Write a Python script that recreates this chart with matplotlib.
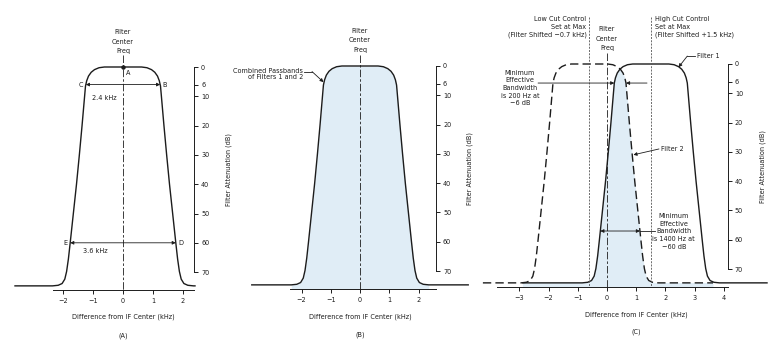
import numpy as np
import matplotlib
matplotlib.use("Agg")
import matplotlib.pyplot as plt
from matplotlib.patches import Polygon

# base filter shape, right half: offset from filter centre (kHz) / attenuation (dB)
base_off = [0.0, 0.62, 0.80, 0.95, 1.06, 1.15, 1.21, 1.25, 1.28, 1.365, 1.455,
            1.55, 1.655, 1.76, 1.82, 1.88, 1.94, 2.03, 2.16, 2.35]
base_db = [0.0, 0.0, 0.25, 0.9, 1.8, 3.1, 4.7, 6.5, 10, 20, 30,
           40, 50, 60, 65.5, 69.8, 72.4, 73.9, 74.5, 74.7]
floor_db = 74.7

db_ticks = [0, 6, 10, 20, 30, 40, 50, 60, 70]
ab_ticks = [-2, -1, 0, 1, 2]
c_ticks = [-3, -2, -1, 0, 1, 2, 3, 4]

shift_1 = 1.5    # filter 1, high cut set at max
shift_2 = -0.6   # filter 2, low cut set at max
a_floor = (-3.6, 2.4)
b_floor = (-3.7, 3.7)
f1_floor = (-2.88, 5.48)
f2_floor = (-4.25, 3.63)

W, H = 770, 356
AXIS_DB = 76.2
FS = 4.7
INK = "#1c1c1c"
BLUE = "#e0edf6"
CENTER_DASH = (9, 2.5, 3, 2.5)

fig = plt.figure(figsize=(W / 100, H / 100), dpi=100)
fig.patch.set_facecolor("white")


def passband(shift, ends):
    x = [ends[0]] + [shift - o for o in reversed(base_off)] + [shift + o for o in base_off[1:]] + [ends[1]]
    y = [floor_db] + list(reversed(base_db)) + base_db[1:] + [floor_db]
    return np.array(x), np.array(y)


def half_width(db):
    return np.interp(db, base_db, base_off)


def panel(px0, ppk, py0, ppd, xticks, xbounds, scale_x, label_x):
    # every panel shares the whole figure, limits map kHz / dB onto its pixels
    ax = fig.add_axes([0, 0, 1, 1])
    ax.patch.set_visible(False)
    ax.set_xlim(-px0 / ppk, (W - px0) / ppk)
    ax.set_ylim((H - py0) / ppd, -py0 / ppd)
    for s in ("left", "top"):
        ax.spines[s].set_visible(False)
    ax.spines["bottom"].set_position(("data", AXIS_DB))
    ax.spines["bottom"].set_bounds(*xbounds)
    ax.spines["right"].set_position(("data", scale_x))
    ax.spines["right"].set_bounds(0, 70)
    for s in ("bottom", "right"):
        ax.spines[s].set_linewidth(0.7)
        ax.spines[s].set_color(INK)
    ax.set_xticks(xticks)
    ax.set_yticks(db_ticks)
    ax.tick_params(axis="x", direction="out", length=3, width=0.7, labelsize=FS, pad=2.3,
                   colors=INK)
    ax.tick_params(axis="y", left=False, right=True, labelleft=False, labelright=True,
                   direction="out", length=3, width=0.7, labelsize=FS, pad=2, colors=INK)
    ax.text(label_x, 35, "Filter Attenuation (dB)", rotation=90, ha="center", va="center",
            fontsize=FS, color=INK)
    return ax


def stack(ax, x, y0, lines, step, **kw):
    for i, line in enumerate(lines):
        ax.text(x, y0 + i * step, line, fontsize=FS, color=INK, va="center", **kw)


def dim_arrow(ax, x0, x1, y, style="<|-|>"):
    ax.annotate("", xy=(x1, y), xytext=(x0, y),
                arrowprops=dict(arrowstyle=style, lw=0.6, color=INK, mutation_scale=5,
                                shrinkA=0, shrinkB=0))


# ---- (A) single filter ----
ax = panel(123, 30.0, 67, 2.93, ab_ticks, (-2.33, 2.37), 2.37, 3.53)
xa, ya = passband(0, a_floor)
ax.plot(xa, ya, color=INK, lw=1.0)
ax.plot([0, 0], [-4, AXIS_DB], color=INK, lw=0.6, dashes=CENTER_DASH)
ax.plot([0], [0], "o", color=INK, ms=2.2)
stack(ax, 0, -11.9, ["Filter", "Center", "Freq"], 3.2, ha="center")
ax.text(0.17, 2.0, "A", fontsize=FS, color=INK, ha="center", va="center")
w6, w60 = half_width(6), half_width(60)
dim_arrow(ax, -w6, w6, 6)
dim_arrow(ax, -w60, w60, 60)
ax.text(-w6 - 0.08, 6, "C", fontsize=FS, color=INK, ha="right", va="center")
ax.text(w6 + 0.08, 6, "B", fontsize=FS, color=INK, ha="left", va="center")
ax.text(-w60 - 0.08, 60, "E", fontsize=FS, color=INK, ha="right", va="center")
ax.text(w60 + 0.08, 60, "D", fontsize=FS, color=INK, ha="left", va="center")
ax.text(-1.03, 10.6, "2.4 kHz", fontsize=FS, color=INK, ha="left", va="center")
ax.text(-1.33, 62.8, "3.6 kHz", fontsize=FS, color=INK, ha="left", va="center")
ax.text(0, 85.4, "Difference from IF Center (kHz)", fontsize=FS, color=INK, ha="center", va="center")
ax.text(0, 91.8, "(A)", fontsize=FS, color=INK, ha="center", va="center")

# ---- (B) combined passband ----
ax = panel(360, 29.25, 66, 2.93, ab_ticks, (-2.39, 2.6), 2.6, 3.76)
xb, yb = passband(0, b_floor)
ax.fill_between(xb, yb, AXIS_DB, color=BLUE, lw=0, where=np.abs(xb) < 2.4)
ax.plot(xb, yb, color=INK, lw=1.0)
ax.plot([0, 0], [-3.8, AXIS_DB], color=INK, lw=0.6, dashes=CENTER_DASH)
stack(ax, 0, -12.0, ["Filter", "Center", "Freq"], 3.2, ha="center")
stack(ax, -1.95, 1.6, ["Combined Passbands", "of Filters 1 and 2"], 2.3, ha="right")
ax.plot([-1.9, -1.64], [1.9, 1.9], color=INK, lw=0.6)
ax.annotate("", xy=(-half_width(5.5) - 0.02, 5.5), xytext=(-1.64, 1.9),
            arrowprops=dict(arrowstyle="-|>", lw=0.6, color=INK, mutation_scale=5,
                            shrinkA=0, shrinkB=0))
ax.text(0, 85.7, "Difference from IF Center (kHz)", fontsize=FS, color=INK, ha="center", va="center")
ax.text(0, 91.6, "(B)", fontsize=FS, color=INK, ha="center", va="center")

# ---- (C) shifted filters ----
ax = panel(607, 29.2, 64, 2.93, c_ticks, (-3.77, 4.14), 4.14, 5.34)
x1, y1 = passband(shift_1, f1_floor)
x2, y2 = passband(shift_2, f2_floor)
clip = Polygon(np.column_stack([np.r_[x1, x1[-1], x1[0]], np.r_[y1, AXIS_DB, AXIS_DB]]),
               closed=True, facecolor="none", edgecolor="none", transform=ax.transData)
ax.add_patch(clip)
overlap = ax.fill_between(x2, y2, AXIS_DB, color=BLUE, lw=0)
overlap.set_clip_path(clip)
ax.plot(x2, y2, color=INK, lw=1.0, dashes=(6, 3))
ax.plot(x1, y1, color=INK, lw=1.0)
ax.plot([0, 0], [-3.8, AXIS_DB], color=INK, lw=0.6, dashes=CENTER_DASH)
ax.plot([shift_2, shift_2], [-16, AXIS_DB], color="#555555", lw=0.6, dashes=(2.4, 1.5))
ax.plot([shift_1, shift_1], [-16, AXIS_DB], color="#555555", lw=0.6, dashes=(2.4, 1.5))

stack(ax, 0, -11.9, ["Filter", "Center", "Freq"], 3.2, ha="center")
stack(ax, shift_2 - 0.1, -15.4, ["Low Cut Control", "Set at Max", "(Filter Shifted \u22120.7 kHz)"],
      2.65, ha="right")
stack(ax, shift_1 + 0.14, -15.4, ["High Cut Control", "Set at Max", "(Filter Shifted +1.5 kHz)"],
      2.65, ha="left")

# filter labels
ax.text(3.08, -2.7, "Filter 1", fontsize=FS, color=INK, ha="left", va="center")
ax.plot([3.02, 2.75], [-2.7, -2.7], color=INK, lw=0.6)
ax.annotate("", xy=(shift_1 + 0.95, 1.1), xytext=(2.75, -2.7),
            arrowprops=dict(arrowstyle="-|>", lw=0.6, color=INK, mutation_scale=5,
                            shrinkA=0, shrinkB=0))
ax.text(1.85, 29, "Filter 2", fontsize=FS, color=INK, ha="left", va="center")
ax.annotate("", xy=(shift_2 + half_width(31) + 0.04, 31), xytext=(1.78, 29),
            arrowprops=dict(arrowstyle="-|>", lw=0.6, color=INK, mutation_scale=5,
                            shrinkA=0, shrinkB=0))

# minimum bandwidth at -6 dB
stack(ax, -2.98, 3.0, ["Minimum", "Effective", "Bandwidth", "is 200 Hz at", "\u22126 dB"],
      2.6, ha="center")
dim_arrow(ax, -2.36, shift_1 - half_width(6.5), 6.5, style="-|>")
dim_arrow(ax, 1.37, shift_2 + half_width(6.5), 6.5, style="-|>")

# minimum bandwidth at -60 dB
stack(ax, 2.29, 51.9, ["Minimum", "Effective", "Bandwidth", "is 1400 Hz at", "\u221260 dB"],
      2.6, ha="center")
dim_arrow(ax, shift_1 - half_width(57), shift_2 + half_width(57), 57)
ax.plot([shift_2 + half_width(57), 1.64], [57, 57], color=INK, lw=0.6)

ax.text(1.0, 85.7, "Difference from IF Center (kHz)", fontsize=FS, color=INK, ha="center", va="center")
ax.text(1.0, 91.5, "(C)", fontsize=FS, color=INK, ha="center", va="center")

fig.savefig("out.png", dpi=100)
